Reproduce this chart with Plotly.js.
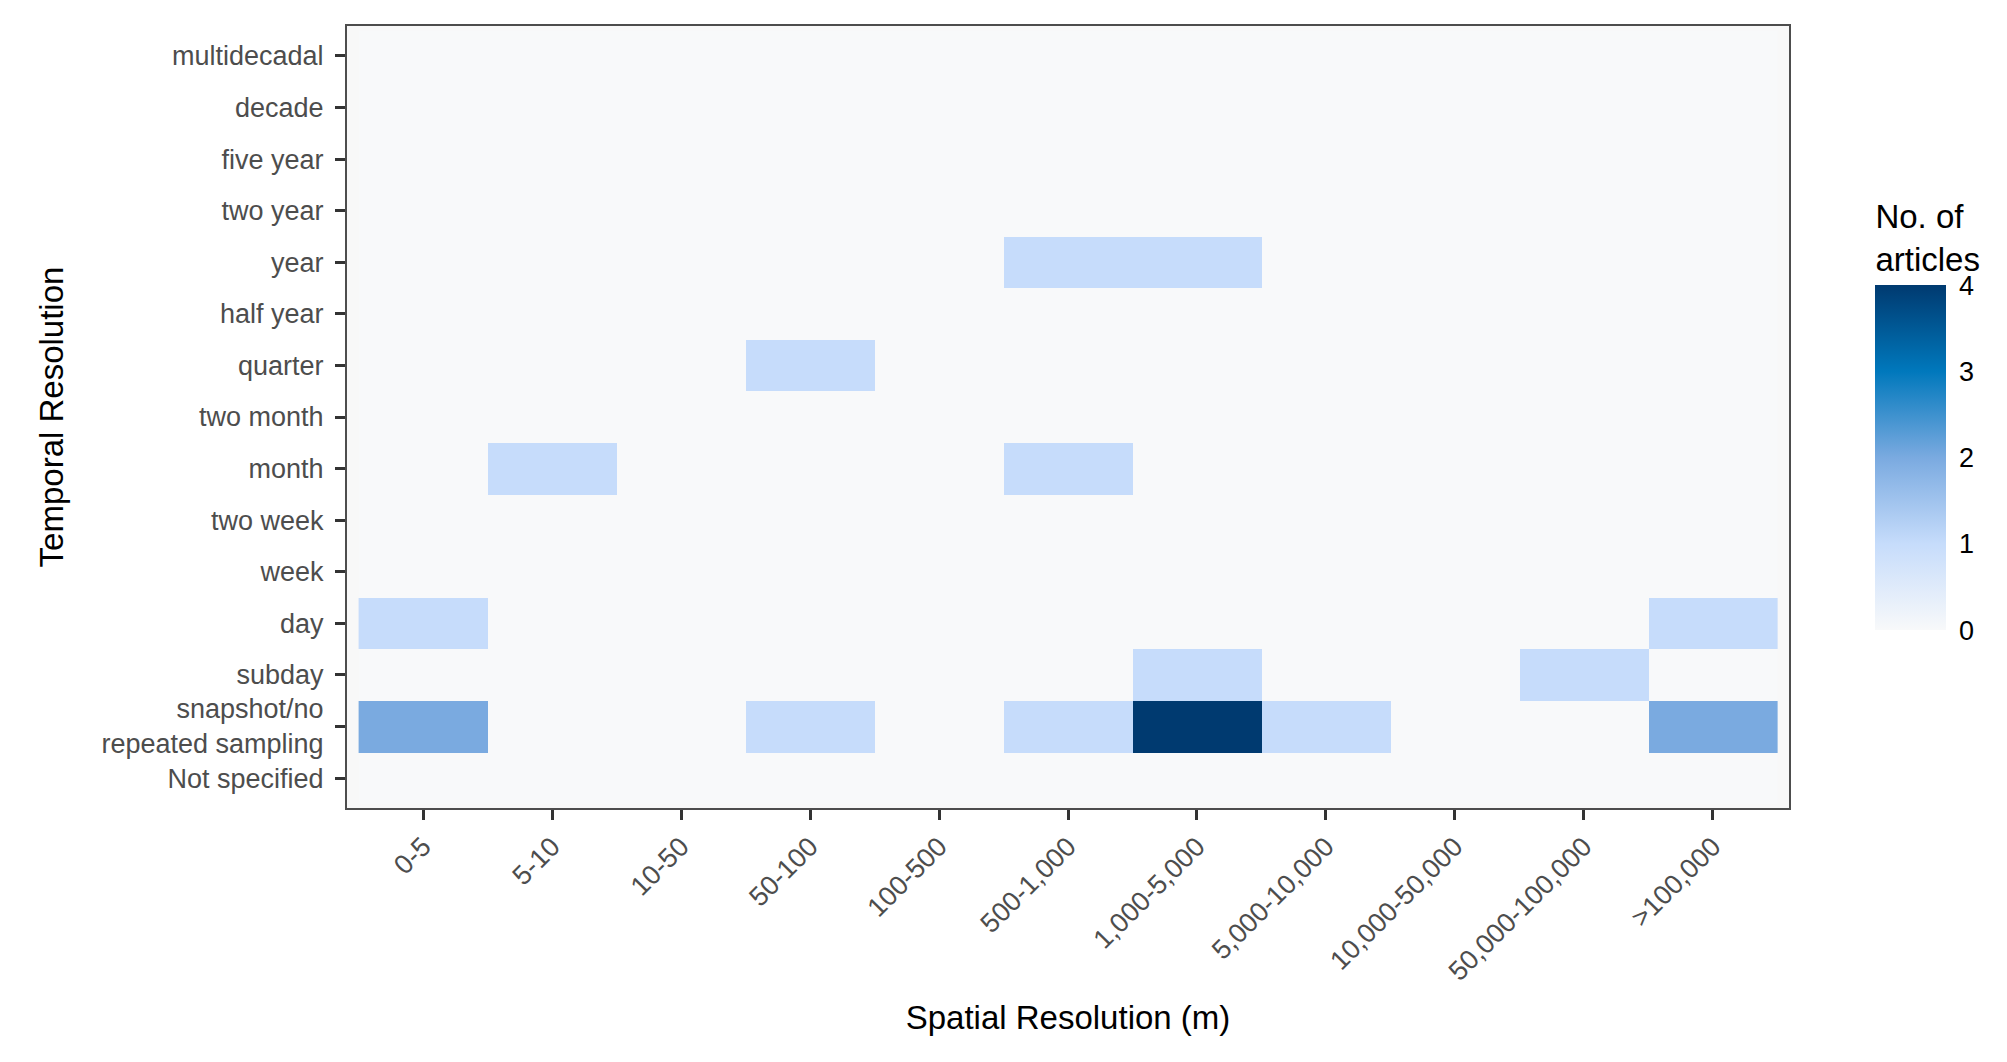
<!DOCTYPE html>
<html>
<head>
<meta charset="utf-8">
<script src="https://cdn.plot.ly/plotly-3.0.1.min.js"></script>
<style>html,body{margin:0;padding:0;background:#fff;}</style>
</head>
<body>
<div id="chart" style="width:2007px;height:1062px;"></div>
<script>
let spatial = ["0-5", "5-10", "10-50", "50-100", "100-500", "500-1,000", "1,000-5,000",
    "5,000-10,000", "10,000-50,000", "50,000-100,000", ">100,000"];
let temporal = ["Not specified", "snapshot/no<br>repeated sampling", "subday", "day", "week",
    "two week", "month", "two month", "quarter", "half year", "year", "two year",
    "five year", "decade", "multidecadal"];

// one row per temporal class, bottom to top, values per spatial class
let notSpecified = [0,0,0,0,0,0,0,0,0,0,0];
let snapshot     = [2,0,0,1,0,1,4,1,0,0,2];
let subday       = [0,0,0,0,0,0,1,0,0,1,0];
let day          = [1,0,0,0,0,0,0,0,0,0,1];
let week         = [0,0,0,0,0,0,0,0,0,0,0];
let twoWeek      = [0,0,0,0,0,0,0,0,0,0,0];
let month        = [0,1,0,0,0,1,0,0,0,0,0];
let twoMonth     = [0,0,0,0,0,0,0,0,0,0,0];
let quarter      = [0,0,0,1,0,0,0,0,0,0,0];
let halfYear     = [0,0,0,0,0,0,0,0,0,0,0];
let year         = [0,0,0,0,0,1,1,0,0,0,0];
let twoYear      = [0,0,0,0,0,0,0,0,0,0,0];
let fiveYear     = [0,0,0,0,0,0,0,0,0,0,0];
let decade       = [0,0,0,0,0,0,0,0,0,0,0];
let multidecadal = [0,0,0,0,0,0,0,0,0,0,0];

let z = [notSpecified, snapshot, subday, day, week, twoWeek, month, twoMonth,
    quarter, halfYear, year, twoYear, fiveYear, decade, multidecadal];

let tickFont = {family: "Liberation Sans, Arial, sans-serif", size: 27, color: "#4d4d4d"};
let titleFont = {family: "Liberation Sans, Arial, sans-serif", size: 33, color: "#000"};

let trace = {
    type: "heatmap",
    x: spatial,
    y: temporal,
    z: z,
    zmin: 0,
    zmax: 4,
    colorscale: [
        [0, "#f8f9fa"],
        [0.25, "#c6dcfb"],
        [0.5, "#7aaae0"],
        [0.75, "#0078bc"],
        [1, "#003a70"]
    ],
    hoverinfo: "x+y+z",
    colorbar: {
        title: {text: "No. of<br>articles", font: titleFont, side: "top"},
        x: 1.053, xanchor: "left",
        y: 0.79, yanchor: "top",
        len: 0.575, lenmode: "fraction",
        thickness: 71,
        outlinewidth: 0,
        ticks: "outside", ticklen: 8, tickcolor: "#fff", tickwidth: 2,
        tickvals: [0, 1, 2, 3, 4],
        tickfont: {family: "Liberation Sans, Arial, sans-serif", size: 27, color: "#000"}
    }
};

let layout = {
    width: 2007,
    height: 1062,
    margin: {l: 347, r: 218, t: 26, b: 254},
    paper_bgcolor: "#fff",
    plot_bgcolor: "#f8f8f8",
    xaxis: {
        type: "category",
        range: [-0.59, 10.59],
        tickangle: -45,
        ticks: "outside", ticklen: 10, tickwidth: 3, tickcolor: "#333",
        tickfont: tickFont,
        showline: true, linecolor: "#4d4d4d", linewidth: 2, mirror: true,
        showgrid: false, zeroline: false,
        title: {text: "Spatial Resolution (m)", font: titleFont, standoff: 20}
    },
    yaxis: {
        type: "category",
        range: [-0.58, 14.58],
        ticks: "outside", ticklen: 10, tickwidth: 3, tickcolor: "#333",
        ticklabelstandoff: 6,
        tickfont: tickFont,
        showline: true, linecolor: "#4d4d4d", linewidth: 2, mirror: true,
        showgrid: false, zeroline: false,
        title: {text: "Temporal Resolution", font: titleFont, standoff: 28}
    }
};

Plotly.newPlot("chart", [trace], layout, {displayModeBar: false});
</script>
</body>
</html>
